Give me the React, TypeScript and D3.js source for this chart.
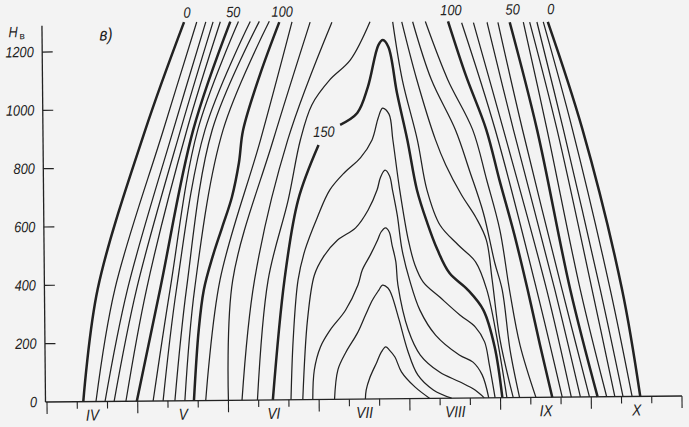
import React from 'react'
import * as d3 from 'd3'

const W = 689
const H = 427

// months on the x axis (value 4 = 1 April ... 11 = 1 November)
const MONTHS = ['IV', 'V', 'VI', 'VII', 'VIII', 'IX', 'X']
const Y_TICKS = [0, 200, 400, 600, 800, 1000, 1200]

// heights at which the near-straight isolines were read
const LEFT_LEVELS = [0, 385, 928, 1298]
const RIGHT_LEVELS = [0, 368, 918, 1287]

// rising isolines, left side (month position at each level)
const LEFT_VALUES = [0, 10, 20, 30, 40, 50, 60, 70, 80, 90]
const LEFT_X = [
  [4.40, 4.57, 5.11, 5.55],
  [4.54, 4.76, 5.31, 5.69],
  [4.64, 4.90, 5.42, 5.79],
  [4.74, 5.00, 5.50, 5.87],
  [4.87, 5.11, 5.57, 5.95],
  [4.99, 5.26, 5.64, 6.06],
  [5.17, 5.37, 5.69, 6.15],
  [5.28, 5.44, 5.77, 6.28],
  [5.41, 5.55, 5.85, 6.38],
  [5.52, 5.64, 5.97, 6.49],
]

// falling isolines, right side
const RIGHT_VALUES = [90, 80, 70, 60, 50, 40, 30, 20, 10, 0]
const RIGHT_X = [
  [9.68, 9.41, 8.97, 8.61],
  [9.78, 9.52, 9.06, 8.74],
  [9.88, 9.61, 9.17, 8.89],
  [9.98, 9.69, 9.27, 9.01],
  [10.07, 9.78, 9.43, 9.14],
  [10.17, 9.89, 9.54, 9.29],
  [10.26, 10.02, 9.65, 9.36],
  [10.35, 10.11, 9.72, 9.44],
  [10.45, 10.22, 9.82, 9.51],
  [10.54, 10.35, 9.93, 9.56],
]

type Pt = [number, number]

const ISO_100_L: Pt[] = [[5.62, 0], [5.68, 242], [5.74, 379], [5.84, 492], [5.95, 594], [6.06, 697], [6.14, 813], [6.19, 926], [6.38, 1114], [6.60, 1295]]
const ISO_110_L: Pt[] = [[5.75, 0], [5.92, 413], [6.38, 891], [6.74, 1295]]
const ISO_120_L: Pt[] = [[6.00, 0], [6.06, 412], [6.52, 890], [6.94, 1294]]
const ISO_130_L: Pt[] = [[6.15, 0], [6.30, 411], [6.68, 890], [7.18, 1293]]
const ISO_140_L: Pt[] = [[6.32, 0], [6.45, 411], [6.68, 685], [6.82, 890], [6.95, 1010], [7.15, 1095], [7.38, 1163], [7.60, 1293]]

// 150: left branch up to the label, then the arch over the summer maximum
const ISO_150_L: Pt[] = [[6.49, 0], [6.63, 410], [6.79, 685], [7.02, 872]]
const ISO_150_ARCH: Pt[] = [[7.26, 941], [7.45, 981], [7.57, 1070], [7.69, 1213], [7.74, 1230], [7.80, 1206], [7.89, 1048], [8.00, 886], [8.10, 715], [8.21, 602], [8.32, 509], [8.45, 429], [8.65, 371], [8.82, 301], [8.94, 175], [9.02, 0]]
const LABEL_150: Pt = [7.08, 900]

// inner tongues
const ISO_160: Pt[] = [[6.69, 0], [6.72, 205], [6.78, 410], [6.86, 513], [7.00, 625], [7.14, 718], [7.31, 779], [7.48, 827], [7.61, 888], [7.68, 963], [7.73, 997], [7.80, 976], [7.84, 887], [7.91, 716], [8.00, 543], [8.07, 458], [8.16, 399], [8.34, 347], [8.56, 285], [8.73, 243], [8.83, 192], [8.88, 113], [8.94, 0]]
const ISO_170: Pt[] = [[6.82, 0], [6.88, 273], [6.96, 426], [7.06, 488], [7.22, 546], [7.42, 587], [7.56, 648], [7.66, 716], [7.70, 760], [7.75, 784], [7.80, 764], [7.83, 716], [7.88, 630], [7.93, 510], [8.01, 406], [8.12, 303], [8.29, 217], [8.55, 148], [8.70, 123], [8.80, 79], [8.87, 0]]
const ISO_180: Pt[] = [[6.93, 0], [6.95, 101], [7.02, 180], [7.13, 238], [7.30, 305], [7.44, 391], [7.49, 443], [7.58, 494], [7.66, 544], [7.70, 572], [7.75, 586], [7.79, 572], [7.82, 527], [7.86, 469], [7.88, 390], [7.99, 235], [8.12, 149], [8.33, 90], [8.55, 56], [8.72, 27], [8.82, 0]]
const ISO_190: Pt[] = [[7.17, 0], [7.21, 101], [7.30, 161], [7.43, 227], [7.52, 288], [7.60, 340], [7.67, 373], [7.71, 390], [7.77, 380], [7.81, 356], [7.89, 270], [7.98, 166], [8.09, 81], [8.26, 29], [8.46, 0]]
const ISO_200: Pt[] = [[7.51, 0], [7.52, 31], [7.56, 72], [7.64, 126], [7.69, 160], [7.74, 178], [7.78, 167], [7.84, 143], [7.91, 92], [8.06, 39], [8.22, 0]]

const ISO_140_R: Pt[] = [[9.07, 0], [8.97, 199], [8.86, 370], [8.74, 466], [8.55, 525], [8.35, 594], [8.21, 715], [8.11, 886], [7.95, 1093], [7.85, 1292]]
const ISO_130_R: Pt[] = [[9.14, 0], [9.00, 199], [8.92, 404], [8.86, 541], [8.75, 617], [8.59, 697], [8.42, 800], [8.31, 886], [8.11, 1093], [7.95, 1292]]
const ISO_120_R: Pt[] = [[9.21, 0], [9.11, 163], [9.03, 369], [8.95, 463], [8.83, 634], [8.68, 781], [8.53, 920], [8.27, 1093], [8.07, 1292]]
const ISO_110_R: Pt[] = [[9.39, 0], [9.22, 180], [9.11, 369], [9.01, 575], [8.87, 747], [8.72, 920], [8.45, 1093], [8.21, 1292]]
const ISO_100_R: Pt[] = [[9.57, 0], [9.44, 180], [9.31, 369], [9.17, 558], [9.01, 747], [8.87, 920], [8.65, 1107], [8.46, 1292]]

const x = d3.scaleLinear().domain([4, 11]).range([47, 682])
const y = d3.scaleLinear().domain([0, 1200]).range([402, 52])
const line = d3
  .line<Pt>()
  .x(d => x(d[0]))
  .y(d => y(d[1]))
  .curve(d3.curveCatmullRom.alpha(0.5))

const INK = '#222'
const FONT = '"Liberation Sans", Arial, sans-serif'

function Label({ px, py, text, size = 15, anchor = 'middle' }: { px: number; py: number; text: string; size?: number; anchor?: string }) {
  return (
    <text
      transform={`translate(${px},${py}) scale(0.85,1)`}
      textAnchor={anchor}
      fontFamily={FONT}
      fontStyle="italic"
      fontSize={size}
      fill={INK}
    >
      {text}
    </text>
  )
}

export default function App() {
  const lines: { pts: Pt[]; thick: boolean }[] = []
  LEFT_VALUES.forEach((v, i) => {
    lines.push({ pts: LEFT_LEVELS.map((h, j) => [LEFT_X[i][j], h] as Pt), thick: v % 50 === 0 })
  })
  RIGHT_VALUES.forEach((v, i) => {
    lines.push({ pts: RIGHT_LEVELS.map((h, j) => [RIGHT_X[i][j], h] as Pt), thick: v % 50 === 0 })
  })
  ;[ISO_100_L, ISO_150_L, ISO_150_ARCH, ISO_100_R].forEach(p => lines.push({ pts: p, thick: true }))
  ;[ISO_110_L, ISO_120_L, ISO_130_L, ISO_140_L, ISO_160, ISO_170, ISO_180, ISO_190, ISO_200, ISO_140_R, ISO_130_R, ISO_120_R, ISO_110_R].forEach(p =>
    lines.push({ pts: p, thick: false })
  )

  const ticks = d3.range(0, 22).map(i => ({ m: 4 + i / 3, major: i % 3 === 0 }))

  const topLabels = [
    { t: '0', m: LEFT_X[0][3] },
    { t: '50', m: LEFT_X[5][3] },
    { t: '100', m: ISO_100_L[ISO_100_L.length - 1][0] },
    { t: '100', m: ISO_100_R[ISO_100_R.length - 1][0] },
    { t: '50', m: RIGHT_X[4][3] },
    { t: '0', m: RIGHT_X[9][3] },
  ]

  return (
    <svg width={W} height={H} style={{ position: 'absolute', left: 0, top: 0, background: '#f3f3f3' }}>
      <rect width={W} height={H} fill="#f3f3f3" />
      <g transform="rotate(-0.54 47 402)">
        {/* axes */}
        <line x1={45.5} x2={45.5} y1={y(0)} y2={y(1290)} stroke={INK} strokeWidth={1.3} />
        <line x1={45.5} x2={x(11)} y1={y(0)} y2={y(0)} stroke={INK} strokeWidth={1.3} />
        {Y_TICKS.filter(v => v > 0).map(v => (
          <line key={v} x1={45.5} x2={56} y1={y(v)} y2={y(v)} stroke={INK} strokeWidth={1.2} />
        ))}
        {Y_TICKS.map(v => (
          <Label key={v} px={37} py={y(v) + 5} text={String(v)} anchor="end" />
        ))}
        {ticks.map(t => (
          <line key={t.m} x1={x(t.m)} x2={x(t.m)} y1={y(0)} y2={y(0) + (t.major ? 12 : 7)} stroke={INK} strokeWidth={1.1} />
        ))}
        {MONTHS.map((mo, i) => (
          <Label key={mo} px={x(4 + i + 0.5)} py={421} text={mo} size={16} />
        ))}

        {/* isolines */}
        {lines.map((l, i) => (
          <path key={i} d={line(l.pts) || ''} fill="none" stroke={INK} strokeWidth={l.thick ? 2.5 : 1.25} />
        ))}

        {topLabels.map((l, i) => (
          <Label key={i} px={x(l.m) + 3} py={19} text={l.t} />
        ))}
        <Label px={x(LABEL_150[0])} py={y(LABEL_150[1])} text="150" />

        <Label px={103} py={41} text="в)" size={18} anchor="start" />
        <Label px={12} py={37} text="H" anchor="start" />
        <text x={23} y={39} fontFamily={FONT} fontSize={10} fill={INK}>в</text>
      </g>
    </svg>
  )
}
